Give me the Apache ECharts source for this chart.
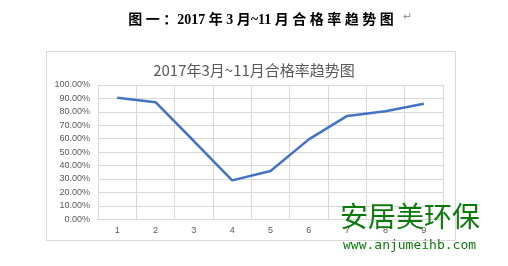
<!DOCTYPE html>
<html><head><meta charset="utf-8">
<script src="https://cdn.jsdelivr.net/npm/echarts@6/dist/echarts.min.js"></script>
<style>html,body{margin:0;padding:0;background:#fff}#c{width:508px;height:266px}</style>
</head><body><div id="c"></div>
<script>
const categories = ['1','2','3','4','5','6','7','8','9'];
const passRate = [90.5, 87.2, 58.3, 29.0, 36.0, 59.5, 77.0, 80.5, 86.0];
const yTicks = [0, 10, 20, 30, 40, 50, 60, 70, 80, 90, 100];

const chart = echarts.init(document.getElementById('c'), null, {renderer:'canvas'});
chart.setOption({
  animation: false,
  backgroundColor: '#fff',
  title: [{
    text: '图 一 ：2017 年 3 月~11 月 合 格 率 趋 势 图',
    left: 256, top: 8, textAlign: 'center',
    textStyle: {fontFamily: 'Liberation Serif, Noto Sans CJK SC', fontWeight: 'bold', fontSize: 14, color: '#000'}
  },{
    text: '2017年3月~11月合格率趋势图',
    left: 249, top: 58, textAlign: 'center',
    textStyle: {fontFamily: 'Noto Sans CJK SC', fontWeight: 'normal', fontSize: 15, color: '#595959'}
  }],
  graphic: [
    {type:'rect', shape:{x:46.5, y:51.5, width:409, height:189}, style:{fill:'none', stroke:'#d9d9d9', lineWidth:1}, z:-1},
    {type:'text', left: 403, top: 11, style:{text:'↵', fill:'#999', fontSize:11}},
    {type:'text', left: 340, top: 202, style:{text:'安居美环保', fill:'#0b7a0b', fontSize:28, fontFamily:'Noto Sans CJK SC'}, z:10},
    {type:'text', left: 343, top: 239, style:{text:'www.anjumeihb.com', fill:'#0b7a0b', fontSize:13, fontFamily:'DejaVu Sans Mono'}, z:10}
  ],
  grid: {left: 98, right: 65, top: 85, bottom: 46.7, containLabel: false},
  xAxis: {
    type: 'category', data: categories, boundaryGap: true,
    axisLine: {show: true, lineStyle: {color: '#d9d9d9'}},
    axisTick: {show: false},
    axisLabel: {color: '#595959', fontSize: 9, margin: 7},
    splitLine: {show: true, lineStyle: {color: '#d9d9d9', width: 1}}
  },
  yAxis: {
    type: 'value', min: 0, max: 100, interval: 10,
    axisLine: {show: false}, axisTick: {show: false},
    axisLabel: {color: '#595959', fontSize: 9, margin: 8, formatter: v => v.toFixed(2) + '%'},
    splitLine: {lineStyle: {color: '#d9d9d9', width: 1}}
  },
  series: [{
    type: 'line', data: passRate, symbol: 'none',
    lineStyle: {color: '#4472C4', width: 2.5}
  }]
});
</script></body></html>
